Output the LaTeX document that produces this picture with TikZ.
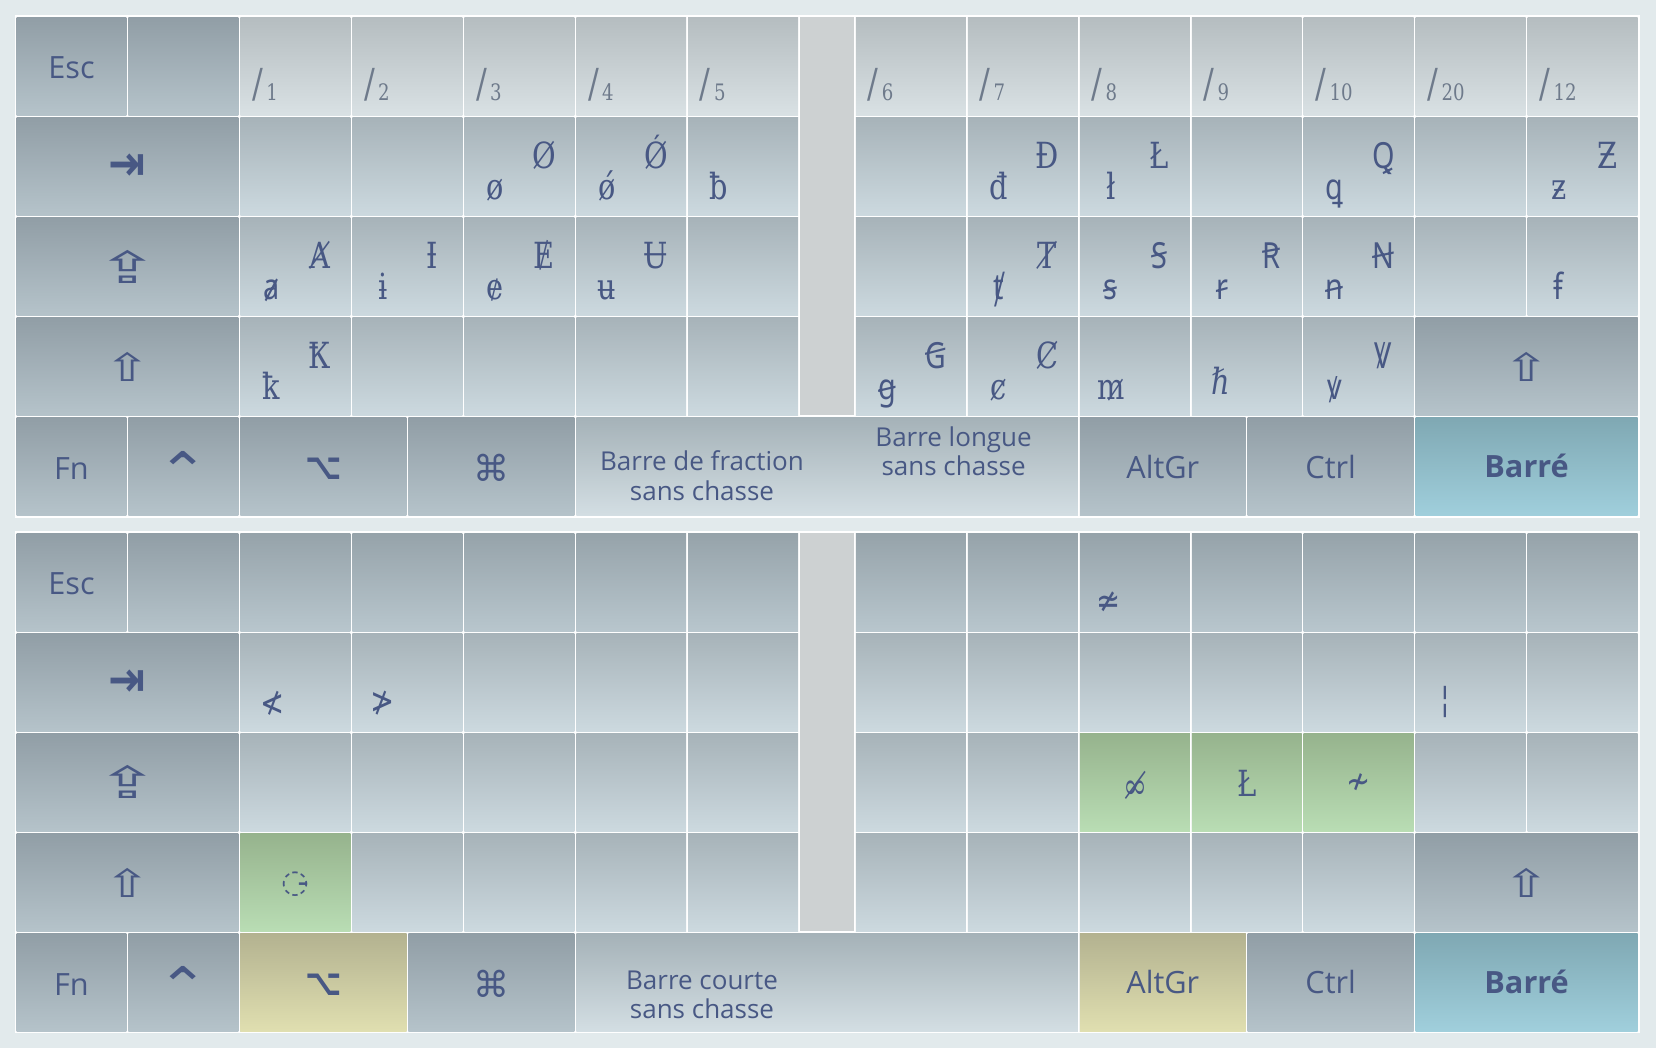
\documentclass[tikz,border=0pt]{standalone}
\usepackage{fontspec}
\setmainfont{Open Sans}
\newfontfamily\gf[FakeStretch=0.8]{DejaVu Serif}
\newfontfamily\gs[FakeStretch=0.8]{Noto Sans}
\newfontfamily\gm[FakeStretch=0.8]{DejaVu Sans}
\newfontfamily\symf{DejaVu Sans}
\newfontfamily\arw[FakeStretch=1.43]{DejaVu Sans}
\newfontfamily\arwc[FakeStretch=1.7]{DejaVu Sans}
\newfontfamily\arwt[FakeStretch=0.9]{DejaVu Sans}
\newfontfamily\arwk[FakeStretch=1.15]{DejaVu Sans}
\newfontfamily\arwo[FakeStretch=0.85]{DejaVu Sans}
\definecolor{bg}{HTML}{E2EAEC}
\definecolor{modT}{HTML}{919EA6}
\definecolor{modB}{HTML}{B5C3CA}
\definecolor{letT}{HTML}{A7B3B9}
\definecolor{letB}{HTML}{CCD9DF}
\definecolor{numT}{HTML}{B5BDC0}
\definecolor{numB}{HTML}{D9E1E4}
\definecolor{drkT}{HTML}{96A3AA}
\definecolor{drkB}{HTML}{B8C6CD}
\definecolor{spcT}{HTML}{A5B2B8}
\definecolor{spcB}{HTML}{D3DEE3}
\definecolor{gapc}{HTML}{CDD1D2}
\definecolor{barT}{HTML}{7FA8B3}
\definecolor{barB}{HTML}{A0CFDC}
\definecolor{grnT}{HTML}{96B38D}
\definecolor{grnB}{HTML}{B9DDB4}
\definecolor{ylwT}{HTML}{B3B290}
\definecolor{ylwB}{HTML}{E0DFB0}
\definecolor{ink}{HTML}{485884}
\definecolor{sl}{HTML}{6E7A8B}
\tikzset{
  lbl/.style={font=\fontsize{23}{23}\selectfont, text=ink, inner sep=0, anchor=base},
  blbl/.style={font=\fontsize{23}{23}\selectfont\bfseries, text=ink, inner sep=0, anchor=base},
  splbl/.style={font=\fontsize{19.5}{19.5}\selectfont, text=ink, inner sep=0, anchor=base},
  gl/.style={font=\gf\fontsize{27}{27}\selectfont, text=ink, inner sep=0, anchor=base},
  glm/.style={font=\gm\fontsize{27}{27}\selectfont, text=ink, inner sep=0, anchor=center},
  glc/.style={font=\gf\fontsize{27}{27}\selectfont, text=ink, inner sep=0, anchor=center},
  sym/.style={font=\symf\fontsize{27}{27}\selectfont, text=ink, inner sep=0, anchor=center},
  num/.style={text=sl, inner sep=0, anchor=base west},
}
% key: x1 y1 x2 y2 (cell edges, px) topcolor bottomcolor
\newcommand\kb[6]{\shade[top color=#5,bottom color=#6] ({#1+1},{#2+1}) rectangle ({#3-1},{#4-1});}
% keyboard body: #1 = top y, #2/#3 = colours of the first row
\newcommand\kbd[3]{%
  \fill[white] (14.5,{#1-1}) rectangle (1639.55,{#1+501});
  \kb{15.5}{#1}{127.45}{#1+100}{modT}{modB}
  \kb{127.45}{#1}{239.4}{#1+100}{modT}{modB}
  \foreach \x in {239.4,351.35,463.3,575.25,687.2,854.9,966.85,1078.8,1190.75,1302.7,1414.65,1526.6}
    {\kb{\x}{#1}{\x+111.95}{#1+100}{#2}{#3}}
  \foreach \r in {1,2,3}{
    \kb{15.5}{#1+100*\r}{239.4}{#1+100*\r+100}{modT}{modB}
    \foreach \x in {239.4,351.35,463.3,575.25,687.2,854.9,966.85,1078.8,1190.75,1302.7,1414.65,1526.6}
      {\kb{\x}{#1+100*\r}{\x+111.95}{#1+100*\r+100}{letT}{letB}}
  }
  \kb{1414.65}{#1+300}{1638.55}{#1+400}{modT}{modB}
  \fill[gapc] (800.15,{#1+1}) rectangle (853.9,{#1+399});
  \kb{15.5}{#1+400}{127.45}{#1+500}{modT}{modB}
  \kb{127.45}{#1+400}{239.4}{#1+500}{modT}{modB}
  \kb{239.4}{#1+400}{407.33}{#1+500}{modT}{modB}
  \kb{407.33}{#1+400}{575.25}{#1+500}{modT}{modB}
  \kb{575.25}{#1+400}{1078.8}{#1+500}{spcT}{spcB}
  \kb{1078.8}{#1+400}{1246.73}{#1+500}{modT}{modB}
  \kb{1246.73}{#1+400}{1414.65}{#1+500}{modT}{modB}
  \kb{1414.65}{#1+400}{1638.55}{#1+500}{barT}{barB}
}
% modifier labels: #1 = top y, #2 = name suffix
\newcommand\mods[2]{%
  \node[lbl] (esc#2) at (71.5,{#1+62.5}) {Esc};
  \node[sym, font=\arwt\bfseries\fontsize{37}{37}\selectfont] (tab#2) at (127.5,{#1+150.5}) {⇥};
  \node[sym, font=\arwc\fontsize{33}{33}\selectfont] (caps#2) at (127.5,{#1+250}) {⇪};
  \node[sym, font=\arw\fontsize{29}{29}\selectfont] (shl#2) at (127.5,{#1+350.5}) {⇧};
  \node[sym, font=\arw\fontsize{29}{29}\selectfont] (shr#2) at (1526.6,{#1+350.5}) {⇧};
  \node[lbl] (fn#2) at (71.5,{#1+462.7}) {Fn};
  \node[sym, font=\arwk\fontsize{40}{40}\selectfont] (ctl#2) at (183.4,{#1+454}) {⌃};
  \node[sym, font=\arwo\bfseries\fontsize{28}{28}\selectfont] (opt#2) at (323.4,{#1+452.2}) {⌥};
  \node[sym] (cmd#2) at (491.3,{#1+451.5}) {⌘};
  \node[lbl] (altgr#2) at (1162.8,{#1+461.5}) {AltGr};
  \node[lbl] (ctrl#2) at (1330.7,{#1+461.5}) {Ctrl};
  \node[blbl] (barre#2) at (1526.6,{#1+461}) {Barré};
}
\newcommand\numl[3]{\node[num] (#3) at ({#1+12.5},101) {{\gf\fontsize{30}{30}\selectfont\raisebox{2.6pt}{/}}\hspace{2.5pt}{\gf\fontsize{17}{17}\selectfont #2}};}
\newcommand\lp[5]{\node[gl] (#5l) at ({#1+32},{#2+83.5}) {#3}; \node[gl] (#5u) at ({#1+80.7},{#2+52.5}) {#4};}
\newcommand\lo[4]{\node[gl] (#4) at ({#1+32},{#2+83.5}) {#3};}
\begin{document}
\begin{tikzpicture}[x=0.75pt,y=-0.75pt]
\useasboundingbox (0,0) rectangle (1656,1048);
\fill[bg] (0,0) rectangle (1656,1048);
% ---------- top keyboard ----------
\kbd{16.5}{numT}{numB}
\mods{16.5}{a}
\numl{239.4}{1}{n1}
\numl{351.35}{2}{n2}
\numl{463.3}{3}{n3}
\numl{575.25}{4}{n4}
\numl{687.2}{5}{n5}
\numl{854.9}{6}{n6}
\numl{966.85}{7}{n7}
\numl{1078.8}{8}{n8}
\numl{1190.75}{9}{n9}
\numl{1302.7}{10}{n10}
\numl{1414.65}{20}{n20}
\numl{1526.6}{12}{n12}
% row 1
\lp{463.3}{116.5}{ø}{Ø}{oo}
\lp{575.25}{116.5}{ǿ}{Ǿ}{oa}
\lo{687.2}{116.5}{ƀ}{bb}
\lp{966.85}{116.5}{đ}{Đ}{dd}
\lp{1078.8}{116.5}{ł}{Ł}{ll}
\lp{1302.7}{116.5}{{\gs ꝗ}}{{\gs Ꝗ}}{qq}
\lp{1526.6}{116.5}{ƶ}{Ƶ}{zz}
% row 2
\lp{239.4}{216.5}{{\gs ⱥ}}{Ⱥ}{aa}
\lp{351.35}{216.5}{ɨ}{Ɨ}{ii}
\lp{463.3}{216.5}{ɇ}{Ɇ}{ee}
\lp{575.25}{216.5}{ʉ}{Ʉ}{uu}
\lp{966.85}{216.5}{{\gs ⱦ}}{Ⱦ}{tt}
\lp{1078.8}{216.5}{{\gs ꞩ}}{{\gs Ꞩ}}{ss}
\lp{1190.75}{216.5}{{\gs ꞧ}}{{\gs Ꞧ}}{rr}
\lp{1302.7}{216.5}{{\gs ꞥ}}{{\gs Ꞥ}}{nn}
\lo{1526.6}{216.5}{{\gs ꞙ}}{ff}
% row 3
\lp{239.4}{316.5}{ꝁ}{Ꝁ}{kk}
\lp{854.9}{316.5}{{\gs ꞡ}}{{\gs Ꞡ}}{gg}
\lp{966.85}{316.5}{ȼ}{Ȼ}{cc}
\lo{1078.8}{316.5}{m^^^^0337}{mm}
\node[gl] (hh) at (1220.5,395) {ℏ};
\lp{1302.7}{316.5}{{\gs ꝟ}}{{\gs Ꝟ}}{vv}
% space labels
\node[splbl] (fr1) at (702,470) {Barre de fraction};
\node[splbl] (fr2) at (702,500) {sans chasse};
\node[splbl] (lg1) at (953.6,446.7) {Barre longue};
\node[splbl] (lg2) at (953.6,475.7) {sans chasse};
% ---------- bottom keyboard ----------
\kbd{532.3}{drkT}{drkB}
\kb{239.4}{932.3}{407.33}{1032.3}{ylwT}{ylwB}
\kb{1078.8}{932.3}{1246.73}{1032.3}{ylwT}{ylwB}
\kb{239.4}{832.3}{351.35}{932.3}{grnT}{grnB}
\kb{1078.8}{732.3}{1190.75}{832.3}{grnT}{grnB}
\kb{1190.75}{732.3}{1302.7}{832.3}{grnT}{grnB}
\kb{1302.7}{732.3}{1414.65}{832.3}{grnT}{grnB}
\mods{532.3}{b}
\node[glm] (nae) at (1109,602.5) {≄};
\node[glm] (nlt) at (272.1,703) {≮};
\node[glm] (ngt) at (382.6,703) {≯};
\node[glc] (brk) at (1445.5,702.4) {¦};
\node[glc] (ninf) at (1135.8,785.5) {∞^^^^0338};
\node[gl] (lstr) at (1247.5,796.7) {Ł};
\node[glm] (ntil) at (1358.3,784) {≁};
\node[sym, font=\symf\fontsize{24}{24}\selectfont] (dcir) at (295.4,884.5) {◌^^^^0335};
\node[splbl] (ct1) at (702,989.3) {Barre courte};
\node[splbl] (ct2) at (702,1018.3) {sans chasse};
\end{tikzpicture}
\end{document}
